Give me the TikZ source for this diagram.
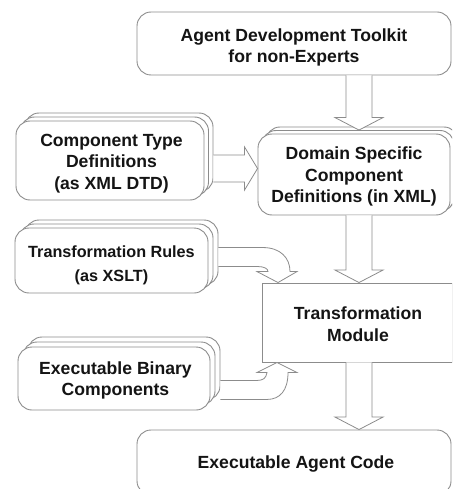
\documentclass[tikz,border=0pt]{standalone}
\usepackage{fontspec}
\setmainfont{Liberation Sans}
\usetikzlibrary{calc}
\definecolor{edge}{RGB}{140,140,140}
\definecolor{ink}{RGB}{20,20,20}

% straight block arrow pointing down: #1 start point, #2 tip
\newcommand\vblock[2]{%
  \path[blk] let \p1=(#1), \p2=(#2) in
    (\x2-13pt,\y1) -- (\x2-13pt,\y2+12.5pt) -- (\x2-24pt,\y2+12.5pt) -- (\x2,\y2)
    -- (\x2+24pt,\y2+12.5pt) -- (\x2+13pt,\y2+12.5pt) -- (\x2+13pt,\y1);}
% straight block arrow pointing right
\newcommand\hblock[2]{%
  \path[blk] let \p1=(#1), \p2=(#2) in
    (\x1,\y2+13.5pt) -- (\x2-13pt,\y2+13.5pt) -- (\x2-13pt,\y2+21.5pt) -- (\x2,\y2)
    -- (\x2-13pt,\y2-21.5pt) -- (\x2-13pt,\y2-13.5pt) -- (\x1,\y2-13.5pt);}
% bent block arrow: runs right, then turns down into the tip
\newcommand\bentdown[2]{%
  \path[blk] let \p1=(#1), \p2=(#2) in
    (\x1,\y2+35pt) -- (\x2-15pt,\y2+35pt)
    .. controls (\x2+2pt,\y2+35pt) and (\x2+12pt,\y2+25pt) .. (\x2+12pt,\y2+11pt)
    -- (\x2+19pt,\y2+11pt) -- (\x2,\y2) -- (\x2-21pt,\y2+11pt) -- (\x2-10pt,\y2+11pt)
    .. controls (\x2-10pt,\y2+14pt) and (\x2-14pt,\y2+16pt) .. (\x2-20pt,\y2+16pt)
    -- (\x1,\y2+16pt);}
% bent block arrow: runs right, then turns up into the tip
\newcommand\bentup[2]{%
  \path[blk] let \p1=(#1), \p2=(#2) in
    (\x1,\y2-37pt) -- (\x2-10pt,\y2-37pt)
    .. controls (\x2+3pt,\y2-37pt) and (\x2+11pt,\y2-28pt) .. (\x2+11pt,\y2-10pt)
    -- (\x2+20pt,\y2-10pt) -- (\x2,\y2) -- (\x2-20pt,\y2-10pt) -- (\x2-10pt,\y2-10pt)
    .. controls (\x2-11pt,\y2-16pt) and (\x2-14pt,\y2-18pt) .. (\x2-20pt,\y2-18pt)
    -- (\x1,\y2-18pt);}

\tikzset{
  box/.style={draw=edge, line width=0.9pt, fill=white, rounded corners=14pt,
    inner sep=0pt},
  plain/.style={box, rounded corners=0pt},
  txt/.style={inner sep=0pt, align=center, text=ink,
    font=\fontsize{17.6}{21.7}\selectfont\bfseries},
  blk/.style={draw=edge, fill=white, line width=0.8pt, line join=miter},
  ctdsize/.style={minimum width=188pt, minimum height=79pt},
  dscsize/.style={minimum width=192pt, minimum height=81pt},
  trsize/.style={minimum width=193pt, minimum height=65pt},
  ebcsize/.style={minimum width=192pt, minimum height=63pt},
}

\begin{document}
\begin{tikzpicture}[x=1pt, y=-1pt]
\clip (0,0) rectangle (452,489);
\fill[white] (0,0) rectangle (452,489);

% top tool box
\node[box, minimum width=314pt, minimum height=63pt] (atk) at (294,43.5) {};
\node[txt] (atkt) at ($(atk)+(0,4)$) {Agent Development Toolkit\\for non-Experts};

% stacked document boxes (rear sheets first)
\node[box, ctdsize] (ctd2) at (119,152.5) {};
\node[box, ctdsize] (ctd1) at (114.5,156.5) {};
\node[box, ctdsize] (ctd) at (110,160.5) {};
\node[txt] (ctdt) at ($(ctd)+(1.5,3)$) {Component Type\\Definitions\\(as XML DTD)};

\node[box, dscsize] (dsc2) at (362,167.5) {};
\node[box, dscsize] (dsc1) at (358,171) {};
\node[box, dscsize] (dsc) at (354,174.5) {};
\node[txt] (dsct) at ($(dsc)+(0,2)$) {Domain Specific\\Component\\Definitions (in XML)};

\node[box, trsize] (tr2) at (121.5,252.5) {};
\node[box, trsize] (tr1) at (116.5,256.5) {};
\node[box, trsize] (tr) at (111.5,260.5) {};
\node[txt, font=\fontsize{16.2}{24}\selectfont\bfseries] (trt) at ($(tr)+(0,5)$)
  {Transformation Rules\\(as XSLT)};

\node[box, ebcsize] (ebc2) at (124,368.5) {};
\node[box, ebcsize] (ebc1) at (119,373.5) {};
\node[box, ebcsize] (ebc) at (114,378.5) {};
\node[txt] (ebct) at ($(ebc)+(1.5,2)$) {Executable Binary\\Components};

% transformation module and result
\node[plain, minimum width=190pt, minimum height=79pt] (tm) at (357,322.5) {};
\node[txt] (tmt) at ($(tm)+(1,2)$) {Transformation\\Module};
\node[box, minimum width=314pt, minimum height=65pt] (eac) at (294,462.5) {};
\node[txt] (eact) at ($(eac)+(2,1)$) {Executable Agent Code};

% reference points for the arrow lines
\coordinate (col) at (359,0);
\coordinate (row) at (0,168.5);
\coordinate (tipa) at (278,0);
\coordinate (tipb) at (277,0);

% block arrows
\vblock{atk.south -| col}{dsc1.north -| col}
\hblock{ctd2.east}{dsc.west |- row}
\vblock{dsc.south -| col}{tm.north -| col}
\bentdown{tr2.east}{tipa |- tm.north}
\bentup{ebc2.east}{tipb |- tm.south}
\vblock{tm.south -| col}{eac.north -| col}
\end{tikzpicture}
\end{document}
